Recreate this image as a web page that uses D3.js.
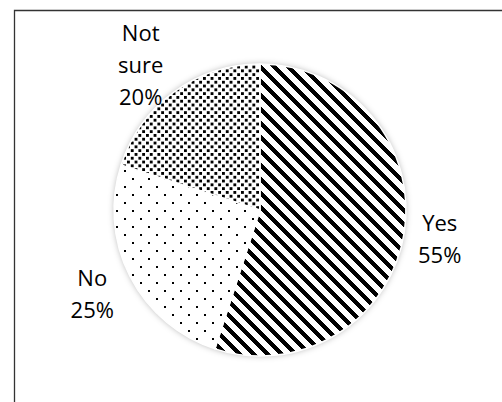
<!DOCTYPE html>
<html>
<head>
<meta charset="utf-8">
<script src="https://cdn.jsdelivr.net/npm/d3@7/dist/d3.min.js"></script>
<style>
  html, body { margin: 0; padding: 0; background: #fff; }
  svg { display: block; }
</style>
</head>
<body>
<svg id="chart" width="502" height="402"></svg>
<script>
// survey answers, clockwise from 12 o'clock
const categories = ['Yes', 'No', 'Not sure'];
const values = [55, 25, 20];
const labelLines = [['Yes', '55%'], ['No', '25%'], ['Not', 'sure', '20%']];
const patternIds = ['stripes', 'sparseDots', 'denseDots'];

const width = 502, height = 402;
const cx = 260, cy = 210, radius = 146;
const labelRadius = 186;
// excel's "best fit" shoves the top label a bit off its centroid
const labelNudge = { 'Not sure': [-10, 6], 'Yes': [-4, 0], 'No': [-2, 0] };

const svg = d3.select('#chart');
const defs = svg.append('defs');

// wide downward diagonal, drawn aliased like the original
const sp = 14, sw = 6.5;
const stripes = defs.append('pattern')
  .attr('id', 'stripes')
  .attr('patternUnits', 'userSpaceOnUse')
  .attr('width', sp).attr('height', sp);
stripes.append('rect').attr('width', sp).attr('height', sp).attr('fill', '#fff');
stripes.append('polygon')
  .attr('points', `0,0 ${sw},0 ${sp},${sp - sw} ${sp},${sp}`)
  .attr('fill', '#000').attr('shape-rendering', 'crispEdges');
stripes.append('polygon')
  .attr('points', `0,${sp - sw} ${sw},${sp} 0,${sp}`)
  .attr('fill', '#000').attr('shape-rendering', 'crispEdges');

// small grid of dots for "No"
const sparse = defs.append('pattern')
  .attr('id', 'sparseDots')
  .attr('patternUnits', 'userSpaceOnUse')
  .attr('width', 16).attr('height', 16);
sparse.append('rect').attr('width', 16).attr('height', 16).attr('fill', '#fff');
[[0, 0], [8, 8]].forEach(([x, y]) => {
  sparse.append('rect').attr('x', x).attr('y', y).attr('width', 2).attr('height', 2)
    .attr('fill', '#000').attr('shape-rendering', 'crispEdges');
});

// dense dots for "Not sure"
const dense = defs.append('pattern')
  .attr('id', 'denseDots')
  .attr('patternUnits', 'userSpaceOnUse')
  .attr('width', 7.6).attr('height', 7.6);
dense.append('rect').attr('width', 7.6).attr('height', 7.6).attr('fill', '#fff');
[[0, 0], [3.8, 3.8]].forEach(([x, y]) => {
  dense.append('rect').attr('x', x).attr('y', y).attr('width', 2.5).attr('height', 2.5)
    .attr('fill', '#000').attr('shape-rendering', 'crispEdges');
});

// soft shadow round the pie
const shadow = defs.append('filter')
  .attr('id', 'shadow')
  .attr('x', '-20%').attr('y', '-20%').attr('width', '140%').attr('height', '140%');
shadow.append('feGaussianBlur').attr('in', 'SourceAlpha').attr('stdDeviation', 3).attr('result', 'blur');
shadow.append('feFlood').attr('flood-color', '#000').attr('flood-opacity', 0.3);
shadow.append('feComposite').attr('in2', 'blur').attr('operator', 'in');

// chart frame (only top and left edges fall inside the picture)
svg.append('path')
  .attr('d', `M14.5,${height} V10.5 H${width}`)
  .attr('fill', 'none')
  .attr('stroke', '#333')
  .attr('stroke-width', 1.3);

const g = svg.append('g').attr('transform', `translate(${cx},${cy})`);

g.append('circle')
  .attr('r', radius)
  .attr('fill', '#fff')
  .attr('filter', 'url(#shadow)');

const pie = d3.pie().sort(null).value(d => d);
const arcs = pie(values);
const arc = d3.arc().innerRadius(0).outerRadius(radius);
const labelArc = d3.arc().innerRadius(labelRadius).outerRadius(labelRadius);

g.selectAll('path.slice')
  .data(arcs)
  .join('path')
  .attr('class', 'slice')
  .attr('d', arc)
  .attr('fill', (d, i) => `url(#${patternIds[i]})`)
  .attr('stroke', '#fff')
  .attr('stroke-width', 1.5);

const lineH = 32;
const labels = g.selectAll('text.label')
  .data(arcs)
  .join('text')
  .attr('class', 'label')
  .attr('transform', (d, i) => {
    const [x, y] = labelArc.centroid(d);
    const [nx, ny] = labelNudge[categories[i]] || [0, 0];
    return `translate(${x + nx},${y + ny})`;
  })
  .attr('text-anchor', 'middle')
  .attr('font-family', '"Open Sans", sans-serif')
  .attr('font-size', 22)
  .attr('fill', '#000');

labels.each(function (d, i) {
  const lines = labelLines[i];
  const y0 = -(lines.length - 1) * lineH / 2;
  d3.select(this).selectAll('tspan')
    .data(lines)
    .join('tspan')
    .attr('x', 0)
    .attr('y', (t, j) => y0 + j * lineH)
    .attr('dy', '0.35em')
    .text(t => t);
});
</script>
</body>
</html>
